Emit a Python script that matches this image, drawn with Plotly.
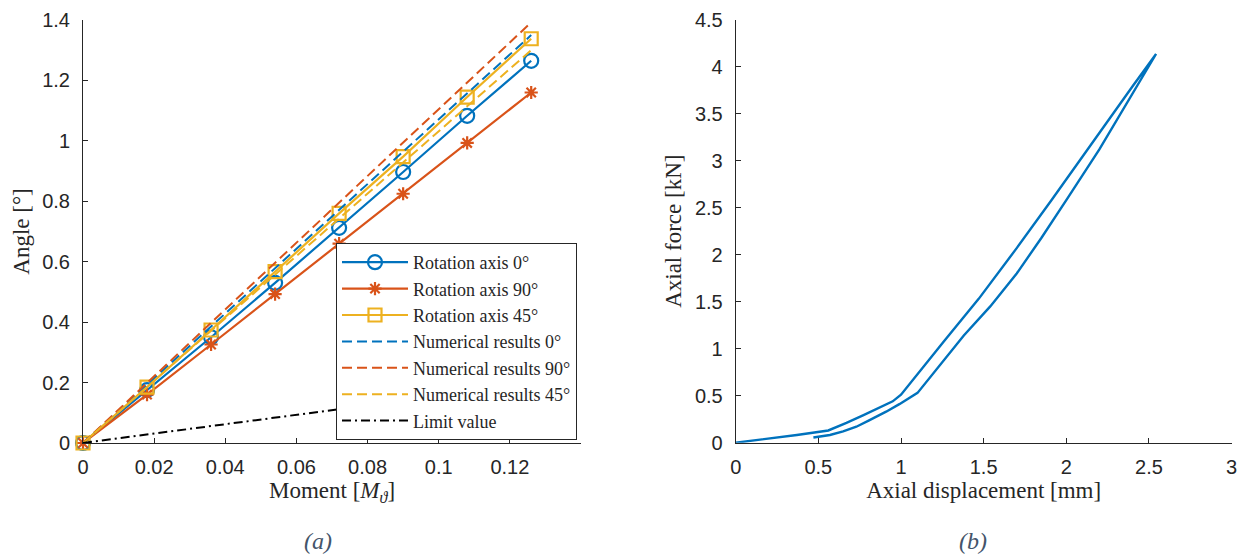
import plotly.graph_objects as go

# ---------------- data: panel (a) ----------------
moment = [0, 0.018, 0.036, 0.054, 0.072, 0.09, 0.108, 0.126]
rot_0 = [0, 0.175, 0.35, 0.53, 0.712, 0.897, 1.083, 1.265]
rot_90 = [0, 0.16, 0.326, 0.493, 0.66, 0.825, 0.993, 1.16]
rot_45 = [0, 0.185, 0.374, 0.567, 0.76, 0.948, 1.145, 1.338]
num_0 = [0, 0.193, 0.386, 0.578, 0.771, 0.964, 1.157, 1.35]
num_90 = [0, 0.199, 0.398, 0.597, 0.796, 0.994, 1.193, 1.392]
num_45 = [0, 0.186, 0.372, 0.557, 0.743, 0.929, 1.115, 1.30]
limit_value = [0, 0.028, 0.056, 0.084, 0.112, 0.14, 0.168, 0.196]
x_ticks_a = [0, 0.02, 0.04, 0.06, 0.08, 0.1, 0.12]
x_labels_a = ["0", "0.02", "0.04", "0.06", "0.08", "0.1", "0.12"]
y_ticks_a = [0, 0.2, 0.4, 0.6, 0.8, 1.0, 1.2, 1.4]
y_labels_a = ["0", "0.2", "0.4", "0.6", "0.8", "1", "1.2", "1.4"]

# ---------------- data: panel (b) ----------------
disp_load = [0, 0.17, 0.37, 0.56, 0.62, 0.67, 0.77, 0.87, 0.95, 1.0, 1.10, 1.26, 1.47, 1.70, 1.91, 2.12, 2.22, 2.40, 2.543]
force_load = [0, 0.036, 0.082, 0.13, 0.17, 0.21, 0.29, 0.37, 0.44, 0.51, 0.73, 1.08, 1.53, 2.07, 2.58, 3.10, 3.35, 3.79, 4.135]
disp_unload = [2.543, 2.45, 2.35, 2.20, 2.00, 1.85, 1.70, 1.54, 1.38, 1.28, 1.18, 1.10, 0.99, 0.91, 0.81, 0.73, 0.65, 0.57, 0.47]
force_unload = [4.135, 3.86, 3.56, 3.12, 2.58, 2.18, 1.80, 1.45, 1.14, 0.92, 0.70, 0.53, 0.41, 0.33, 0.24, 0.17, 0.12, 0.082, 0.055]
x_ticks_b = [0, 0.5, 1, 1.5, 2, 2.5, 3]
x_labels_b = ["0", "0.5", "1", "1.5", "2", "2.5", "3"]
y_ticks_b = [0, 0.5, 1, 1.5, 2, 2.5, 3, 3.5, 4, 4.5]
y_labels_b = ["0", "0.5", "1", "1.5", "2", "2.5", "3", "3.5", "4", "4.5"]

BLUE = "#0072BD"
RED = "#D95319"
YEL = "#EDB120"
SERIF = "Liberation Serif"
SANS = "Liberation Sans"
DARK = "#262626"

fig = go.Figure()

def solid(name, y, color, symbol, size):
    return go.Scatter(
        x=moment, y=y, name=name, mode="lines+markers",
        line=dict(color=color, width=2.2),
        marker=dict(symbol=symbol, size=size, color=color, line=dict(color=color, width=2.2)),
        cliponaxis=False, xaxis="x", yaxis="y",
    )

def dashed(name, y, color):
    return go.Scatter(
        x=moment, y=y, name=name, mode="lines",
        line=dict(color=color, width=2, dash="10px,5px"),
        cliponaxis=False, xaxis="x", yaxis="y",
    )

fig.add_trace(solid("Rotation axis 0°", rot_0, BLUE, "circle-open", 14))
fig.add_trace(solid("Rotation axis 90°", rot_90, RED, "asterisk-open", 11))
fig.add_trace(solid("Rotation axis 45°", rot_45, YEL, "square-open", 13))
fig.add_trace(dashed("Numerical results 0°", num_0, BLUE))
fig.add_trace(dashed("Numerical results 90°", num_90, RED))
fig.add_trace(dashed("Numerical results 45°", num_45, YEL))
fig.add_trace(go.Scatter(
    x=moment, y=limit_value, name="Limit value", mode="lines",
    line=dict(color="black", width=2, dash="9px,4px,2px,4px"),
    xaxis="x", yaxis="y",
))

fig.add_trace(go.Scatter(
    x=disp_load + disp_unload[1:], y=force_load + force_unload[1:],
    mode="lines", line=dict(color=BLUE, width=2.4), showlegend=False,
    xaxis="x2", yaxis="y2",
))

W, H = 1242, 557
def px_x(p):
    return p / W
def px_y(p):
    return (H - p) / H

axis_common = dict(
    showline=True, linecolor=DARK, linewidth=1, mirror=False,
    ticks="inside", ticklen=5, tickcolor=DARK, tickwidth=1,
    showgrid=False, zeroline=False, automargin=False,
    tickfont=dict(family=SANS, size=20, color=DARK),
    title_font=dict(family=SERIF, size=23, color=DARK),
)

fig.update_layout(
    width=W, height=H, autosize=False,
    margin=dict(l=0, r=0, t=0, b=0),
    paper_bgcolor="white", plot_bgcolor="white",
    xaxis=dict(domain=[px_x(83), px_x(581)], range=[0, 0.14], anchor="y",
               tickvals=x_ticks_a, ticktext=x_labels_a, ticklabelstandoff=6,
               title=dict(text="Moment [<i>M</i><sub><i>ϑ</i></sub>]", standoff=4), **axis_common),
    yaxis=dict(domain=[px_y(443), px_y(20)], range=[0, 1.4], anchor="x",
               tickvals=y_ticks_a, ticktext=y_labels_a, ticklabelstandoff=8,
               title=dict(text="Angle [°]", standoff=6), **axis_common),
    xaxis2=dict(domain=[px_x(735.7), px_x(1231.6)], range=[0, 3], anchor="y2",
                tickvals=x_ticks_b, ticktext=x_labels_b, ticklabelstandoff=6,
                title=dict(text="Axial displacement [mm]", standoff=4), **axis_common),
    yaxis2=dict(domain=[px_y(442.7), px_y(19.7)], range=[0, 4.5], anchor="x2",
                tickvals=y_ticks_b, ticktext=y_labels_b, ticklabelstandoff=8,
                title=dict(text="Axial force [kN]", standoff=6), **axis_common),
    legend=dict(
        x=px_x(577), y=px_y(440), xanchor="right", yanchor="bottom",
        bgcolor="white", bordercolor=DARK, borderwidth=1,
        font=dict(family=SERIF, size=18, color=DARK),
        itemwidth=66, tracegroupgap=0,
    ),
    showlegend=True,
    annotations=[
        dict(text="<i>(a)</i>", x=px_x(318), y=px_y(541), xref="paper", yref="paper",
             xanchor="center", yanchor="middle",
             showarrow=False, font=dict(family=SERIF, size=24, color="#44546A")),
        dict(text="<i>(b)</i>", x=px_x(973), y=px_y(541), xref="paper", yref="paper",
             xanchor="center", yanchor="middle",
             showarrow=False, font=dict(family=SERIF, size=24, color="#44546A")),
    ],
)

fig.write_html("out.html")
